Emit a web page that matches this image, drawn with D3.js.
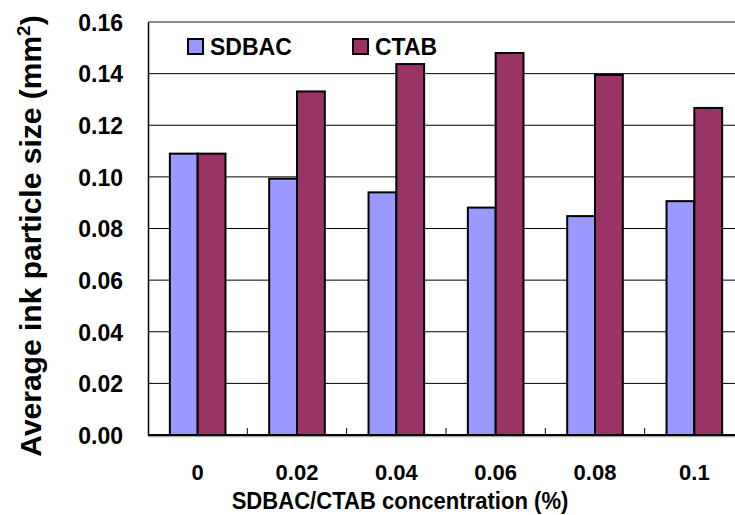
<!DOCTYPE html>
<html>
<head>
    <title>Ink particle size</title>
    <meta charset="utf-8">
</head>
<body style="margin:0">
<style>
    text {
        font-family: "Liberation Sans", Arial, sans-serif;
        font-weight: bold;
        fill: #000;
    }
</style>
<script src="https://d3js.org/d3.v7.min.js"></script>
<script>
    // Chart data
    const categories = ['0', '0.02', '0.04', '0.06', '0.08', '0.1'];
    const seriesNames = ['SDBAC', 'CTAB'];
    const sdbacValues = [0.109, 0.0993, 0.094, 0.0881, 0.0848, 0.0906];
    const ctabValues = [0.109, 0.1331, 0.1437, 0.148, 0.1395, 0.1267];
    const yTicks = [0, 0.02, 0.04, 0.06, 0.08, 0.10, 0.12, 0.14, 0.16];

    const SIZES = {
        WIDTH: 735,
        HEIGHT: 515,
        LEFT: 148,
        TOP: 22,
        BOTTOM: 435,
        RIGHT: 744 // plot runs past the right edge, like the source picture
    };
    const colors = {SDBAC: '#9999ff', CTAB: '#993366'};

    const svg = d3.select('body').append('svg')
        .attr('width', SIZES.WIDTH)
        .attr('height', SIZES.HEIGHT)
        .style('display', 'block');

    const x0 = d3.scaleBand().domain(categories).range([SIZES.LEFT, SIZES.RIGHT]);
    const x1 = d3.scaleBand().domain(seriesNames)
        .range([x0.bandwidth() * 0.22, x0.bandwidth() * 0.78]);
    const y = d3.scaleLinear().domain([0, 0.16]).range([SIZES.BOTTOM, SIZES.TOP]);

    // Gridlines (behind the bars)
    svg.append('g')
        .selectAll('line')
        .data(yTicks.slice(1, -1))
        .join('line')
        .attr('x1', SIZES.LEFT).attr('x2', SIZES.RIGHT)
        .attr('y1', d => y(d)).attr('y2', d => y(d))
        .attr('stroke', '#000')
        .attr('stroke-width', 1);

    // Top border of plot area
    svg.append('line')
        .attr('x1', SIZES.LEFT).attr('x2', SIZES.RIGHT)
        .attr('y1', y(0.16)).attr('y2', y(0.16))
        .attr('stroke', '#8c8c8c')
        .attr('stroke-width', 2);

    // Bars
    const rows = categories.map((c, i) => ({cat: c, values: [
        {name: 'SDBAC', value: sdbacValues[i]},
        {name: 'CTAB', value: ctabValues[i]}
    ]}));

    svg.append('g')
        .selectAll('g')
        .data(rows)
        .join('g')
        .attr('transform', d => `translate(${x0(d.cat)},0)`)
        .selectAll('rect')
        .data(d => d.values)
        .join('rect')
        .attr('x', d => x1(d.name))
        .attr('width', x1.bandwidth())
        .attr('y', d => y(d.value))
        .attr('height', d => y(0) - y(d.value))
        .attr('fill', d => colors[d.name])
        .attr('stroke', '#000')
        .attr('stroke-width', 2);

    // Y axis
    const yAxis = svg.append('g')
        .attr('transform', `translate(${SIZES.LEFT},0)`)
        .call(d3.axisLeft(y).tickValues(yTicks).tickFormat(d3.format('.2f')).tickSize(0).tickPadding(25));
    yAxis.select('.domain').attr('stroke', '#000').attr('stroke-width', 1.5);
    yAxis.selectAll('text').style('font-size', '23px').attr('dy', '0.36em');

    // X axis: inward tick marks at category boundaries
    svg.append('line')
        .attr('x1', SIZES.LEFT).attr('x2', SIZES.RIGHT)
        .attr('y1', SIZES.BOTTOM + 1.5).attr('y2', SIZES.BOTTOM + 1.5)
        .attr('stroke', '#aaa').attr('stroke-width', 1.5);
    svg.append('line')
        .attr('x1', SIZES.LEFT).attr('x2', SIZES.RIGHT)
        .attr('y1', SIZES.BOTTOM).attr('y2', SIZES.BOTTOM)
        .attr('stroke', '#000').attr('stroke-width', 2);
    svg.append('g')
        .selectAll('line')
        .data(categories.slice(1))
        .join('line')
        .attr('x1', d => x0(d)).attr('x2', d => x0(d))
        .attr('y1', SIZES.BOTTOM).attr('y2', SIZES.BOTTOM - 7)
        .attr('stroke', '#000').attr('stroke-width', 1);

    svg.append('g')
        .selectAll('text')
        .data(categories)
        .join('text')
        .attr('x', d => x0(d) + x0.bandwidth() / 2)
        .attr('y', 480)
        .attr('text-anchor', 'middle')
        .style('font-size', '22px')
        .text(d => d);

    // Axis titles
    svg.append('text')
        .attr('transform', 'translate(400,509) scale(0.92,1)')
        .attr('text-anchor', 'middle')
        .style('font-size', '24px')
        .text('SDBAC/CTAB concentration (%)');

    const yTitle = svg.append('text')
        .attr('transform', 'translate(41,236) rotate(-90)')
        .attr('text-anchor', 'middle')
        .style('font-size', '30px');
    yTitle.append('tspan').text('Average ink particle size (mm');
    yTitle.append('tspan').attr('dy', '-0.6em').style('font-size', '19px').text('2');
    yTitle.append('tspan').attr('dy', '0.4em').text(')');

    // Legend
    const legendX = [188, 353];
    const legend = svg.append('g')
        .selectAll('g')
        .data(seriesNames)
        .join('g')
        .attr('transform', (d, i) => `translate(${legendX[i]},39)`);
    legend.append('rect')
        .attr('width', 15).attr('height', 15)
        .attr('fill', d => colors[d])
        .attr('stroke', '#000').attr('stroke-width', 2);
    legend.append('text')
        .attr('x', 22).attr('y', 15.5)
        .style('font-size', '23px')
        .text(d => d);
</script>
</body>
</html>
